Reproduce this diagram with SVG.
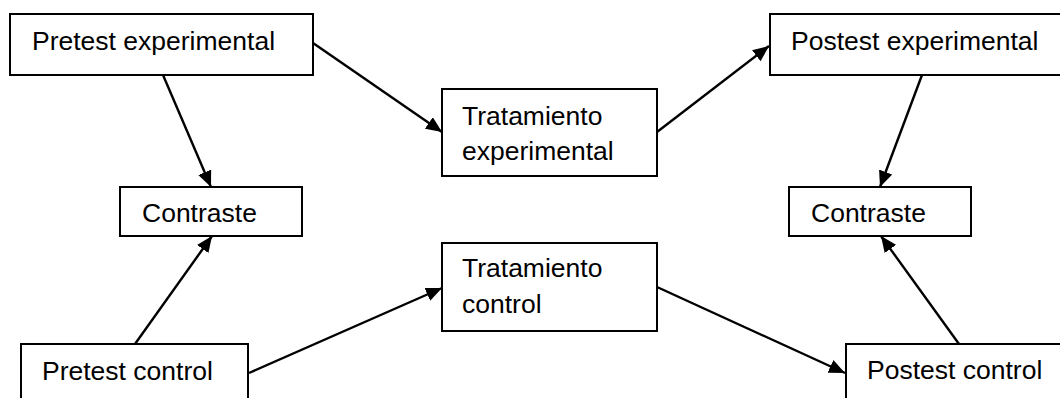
<svg xmlns="http://www.w3.org/2000/svg" width="1060" height="398" viewBox="0 0 1060 398">
<style>
.box{fill:#fff;stroke:#000;stroke-width:2}
.t{font-family:"Liberation Sans",Arial,sans-serif;font-size:26.5px;fill:#000}
.c{stroke:#000;stroke-width:2.4;fill:none;marker-end:url(#ah)}
</style>
<defs>
<marker id="ah" markerUnits="userSpaceOnUse" markerWidth="18" markerHeight="14" refX="16" refY="7" orient="auto">
<path d="M0,0 L16,7 L0,14 Z" fill="#000"/>
</marker>
</defs>
<rect width="1060" height="398" fill="#fff"/>
<g id="connectors">
<line class="c" x1="163" y1="75" x2="211" y2="187"/>
<line class="c" x1="313" y1="43" x2="442" y2="132"/>
<line class="c" x1="657" y1="132" x2="769" y2="46"/>
<line class="c" x1="922" y1="75" x2="880" y2="187"/>
<line class="c" x1="135" y1="344" x2="212" y2="236"/>
<line class="c" x1="249" y1="373" x2="442" y2="288"/>
<line class="c" x1="657" y1="287" x2="845" y2="373"/>
<line class="c" x1="959" y1="344" x2="881" y2="236"/>
</g>
<g id="pretest-experimental">
<rect class="box" x="10" y="14" width="303" height="61"/>
<text class="t" x="32" y="50">Pretest experimental</text>
</g>
<g id="tratamiento-experimental">
<rect class="box" x="442" y="89" width="215" height="87"/>
<text class="t" x="462" y="125">Tratamiento</text>
<text class="t" x="462" y="160">experimental</text>
</g>
<g id="postest-experimental">
<rect class="box" x="770" y="14" width="300" height="61"/>
<text class="t" x="791" y="50">Postest experimental</text>
</g>
<g id="contraste-izq">
<rect class="box" x="120" y="187" width="182" height="49"/>
<text class="t" x="142" y="222">Contraste</text>
</g>
<g id="contraste-der">
<rect class="box" x="789" y="187" width="182" height="49"/>
<text class="t" x="811" y="222">Contraste</text>
</g>
<g id="tratamiento-control">
<rect class="box" x="442" y="243" width="215" height="88"/>
<text class="t" x="462" y="277">Tratamiento</text>
<text class="t" x="462" y="313">control</text>
</g>
<g id="pretest-control">
<rect class="box" x="21" y="344" width="227" height="70"/>
<text class="t" x="42" y="380">Pretest control</text>
</g>
<g id="postest-control">
<rect class="box" x="846" y="344" width="230" height="70"/>
<text class="t" x="867" y="379">Postest control</text>
</g>
</svg>
